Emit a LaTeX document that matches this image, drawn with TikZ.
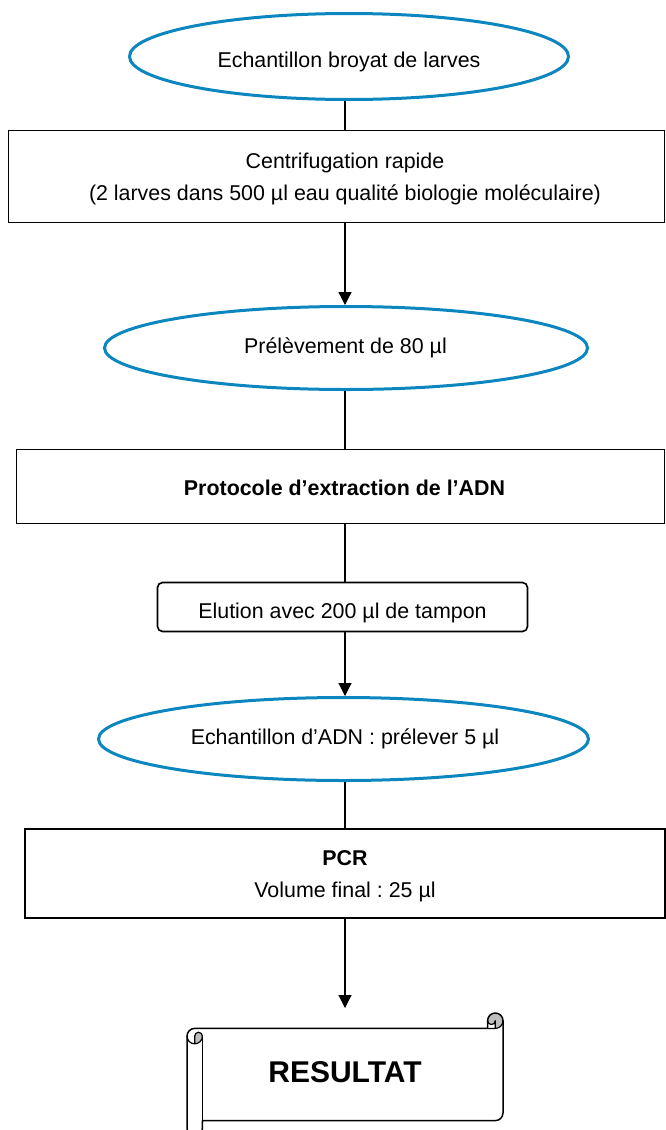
\documentclass[tikz,border=0pt]{standalone}
\usepackage{fontspec}
\setmainfont{Liberation Sans}
\usetikzlibrary{arrows.meta,shapes.geometric}
\definecolor{ellblue}{RGB}{12,134,190}
\definecolor{curlgray}{RGB}{190,190,190}
\frenchspacing
\begin{document}
\begin{tikzpicture}[x=1pt,y=-1pt,
  oval/.style={ellipse, draw=ellblue, line width=3pt, inner sep=0pt},
  box/.style={rectangle, draw=black, line width=1.6pt, inner sep=0pt},
  rbox/.style={box, rounded corners=5pt},
  lbl/.style={font=\fontsize{21.4}{32}\selectfont, inner sep=0pt, anchor=base},
  blbl/.style={lbl, font=\fontsize{21.4}{32}\selectfont\bfseries},
  link/.style={draw=black, line width=1.2pt},
  arrowlink/.style={link, -{Triangle[length=13pt,width=13pt]}},
  scrollline/.style={draw=black, line width=1.5pt, line join=round},
  thinscroll/.style={draw=black, line width=1.2pt, line join=round}
]
\useasboundingbox (0,0) rectangle (666,1130);
\coordinate (axis) at (345,0);

% ellipse 1
\node[oval, minimum width=439pt, minimum height=86pt] (e1) at (349,56.5) {};
\node[lbl] (t1) at (349,67) {Echantillon broyat de larves};

% box 1
\node[box, minimum width=656pt, minimum height=92pt] (b1) at (336.5,176.5) {};
\node[lbl] (t2a) at (345,168) {Centrifugation rapide};
\node[lbl] (t2b) at (345,200) {(2 larves dans 500 µl eau qualité biologie moléculaire)};

% ellipse 2
\node[oval, minimum width=483pt, minimum height=83pt] (e2) at (346,348) {};
\node[lbl] (t3) at (345.5,353) {Prélèvement de 80 µl};

% box 2
\node[box, minimum width=648pt, minimum height=74pt] (b2) at (340.5,486.5) {};
\node[blbl] (t4) at (344.5,495) {Protocole d’extraction de l’ADN};

% box 3 rounded
\node[rbox, minimum width=370pt, minimum height=49pt] (b3) at (342.5,607) {};
\node[lbl] (t5) at (342.5,618) {Elution avec 200 µl de tampon};

% ellipse 3
\node[oval, minimum width=490pt, minimum height=83pt] (e3) at (343.5,739) {};
\node[lbl] (t6) at (345,744) {Echantillon d’ADN : prélever 5 µl};

% box 4
\node[box, minimum width=640pt, minimum height=89pt] (b4) at (345,873.5) {};
\node[blbl] (t7a) at (345,865) {PCR};
\node[lbl] (t7b) at (345,897) {Volume final : 25 µl};

% scroll
\fill[white] (503,1020.7) arc[start angle=0, delta angle=90, radius=7.7]
  -- (487.6,1028.4) -- (194.7,1028.4)
  arc[start angle=270, delta angle=-90, radius=7.7]
  -- (187,1128.3) arc[start angle=180, delta angle=-180, radius=7.7]
  -- (202.4,1120.6) -- (495.3,1120.6)
  arc[start angle=90, delta angle=-90, radius=7.7] -- cycle;
\fill[curlgray] (194.7,1043.8) arc[start angle=90, delta angle=-90, radius=7.7]
  arc[start angle=0, delta angle=-180, radius=3.85] -- cycle;
\fill[curlgray] (495.3,1028.4) arc[start angle=90, delta angle=-270, radius=7.7]
  arc[start angle=180, delta angle=-180, radius=3.85] -- cycle;
\draw[scrollline] (187,1036.1) arc[start angle=180, delta angle=90, radius=7.7]
  -- (487.6,1028.4) -- (487.6,1020.7)
  arc[start angle=180, delta angle=180, radius=7.7]
  -- (503,1112.9) arc[start angle=0, delta angle=90, radius=7.7]
  -- (202.4,1120.6) -- (202.4,1128.3)
  arc[start angle=0, delta angle=180, radius=7.7] -- cycle;
\draw[thinscroll] (487.6,1028.4) -- (495.3,1028.4) arc[start angle=90, delta angle=-90, radius=7.7];
\draw[thinscroll] (495.3,1028.4) -- (495.3,1020.7) arc[start angle=0, delta angle=180, radius=3.85];
\draw[thinscroll] (194.7,1043.8) -- (194.7,1036.1) arc[start angle=180, delta angle=180, radius=3.85]
  arc[start angle=0, delta angle=180, radius=7.7];
\draw[scrollline] (202.4,1036.1) -- (202.4,1120.6);
\node[inner sep=0pt, anchor=base, font=\fontsize{30}{36}\selectfont\bfseries] (res) at (345,1082.5) {RESULTAT};

% connectors
\coordinate (tipend) at (345,1008);
\draw[link] (e1.south -| axis) -- (b1.north -| axis);
\draw[arrowlink] (b1.south -| axis) -- (e2.north -| axis);
\draw[link] (e2.south -| axis) -- (b2.north -| axis);
\draw[link] (b2.south -| axis) -- (b3.north -| axis);
\draw[arrowlink] (b3.south -| axis) -- (e3.north -| axis);
\draw[link] (e3.south -| axis) -- (b4.north -| axis);
\draw[arrowlink] (b4.south -| axis) -- (tipend);
\end{tikzpicture}
\end{document}
